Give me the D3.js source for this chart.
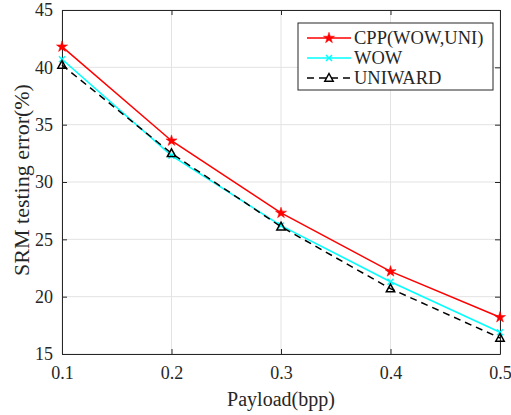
<!DOCTYPE html>
<html>
<head>
<meta charset="utf-8">
<script src="https://cdn.jsdelivr.net/npm/d3@7"></script>
<style>
  body { margin: 0; background: #fff; }
  text { font-family: "Liberation Serif", "Times New Roman", serif; fill: #262626; }
</style>
</head>
<body>
<div class="chart"></div>
<script>
/* data */
const payload = [0.1, 0.2, 0.3, 0.4, 0.5];
const cpp = [41.8, 33.6, 27.3, 22.2, 18.2];
const wow = [40.7, 32.3, 26.2, 21.3, 16.9];
const uniward = [40.2, 32.5, 26.1, 20.7, 16.4];
const seriesNames = ["CPP(WOW,UNI)", "WOW", "UNIWARD"];
const xTicks = [0.1, 0.2, 0.3, 0.4, 0.5];
const yTicks = [15, 20, 25, 30, 35, 40, 45];

const width = 511, height = 415;
const margin = {top: 10, right: 11, bottom: 61, left: 62};
const w = width - margin.left - margin.right;
const h = height - margin.top - margin.bottom;
const serif = '"Liberation Serif", "Times New Roman", serif';

const svg = d3.select(".chart").append("svg")
  .attr("width", width)
  .attr("height", height);

const g = svg.append("g")
  .attr("transform", `translate(${margin.left},${margin.top})`);

const x = d3.scaleLinear().domain([0.1, 0.5]).range([0, w]);
const y = d3.scaleLinear().domain([15, 45]).range([h, 0]);

/* grid */
g.append("g").selectAll("line")
  .data(xTicks).enter().append("line")
  .attr("x1", d => x(d)).attr("x2", d => x(d))
  .attr("y1", 0).attr("y2", h)
  .attr("stroke", "#e3e3e3").attr("stroke-width", 1);
g.append("g").selectAll("line")
  .data(yTicks).enter().append("line")
  .attr("x1", 0).attr("x2", w)
  .attr("y1", d => y(d)).attr("y2", d => y(d))
  .attr("stroke", "#e3e3e3").attr("stroke-width", 1);

/* axes, MATLAB style: ticks inside, box on all sides */
function styleAxis(sel) {
  sel.attr("font-family", serif).attr("font-size", 18);
  sel.select(".domain").attr("stroke", "#262626");
  sel.selectAll(".tick line").attr("stroke", "#262626");
  sel.selectAll(".tick text")
    .style("font-family", serif)
    .style("font-size", "18px")
    .attr("fill", "#262626");
}
const fmt = d3.format(".1f");
g.append("g").attr("transform", `translate(0,${h})`)
  .call(d3.axisBottom(x).tickValues(xTicks).tickFormat(fmt).tickSizeInner(-5).tickSizeOuter(0).tickPadding(12))
  .call(styleAxis);
g.append("g")
  .call(d3.axisTop(x).tickValues(xTicks).tickFormat("").tickSizeInner(-5).tickSizeOuter(0))
  .call(styleAxis);
g.append("g")
  .call(d3.axisLeft(y).tickValues(yTicks).tickSizeInner(-5).tickSizeOuter(0).tickPadding(9))
  .call(styleAxis);
g.append("g").attr("transform", `translate(${w},0)`)
  .call(d3.axisRight(y).tickValues(yTicks).tickFormat("").tickSizeInner(-5).tickSizeOuter(0))
  .call(styleAxis);

/* series */
const series = [
  {name: seriesNames[0], values: cpp, color: "#ff0000", dash: null, marker: "star"},
  {name: seriesNames[1], values: wow, color: "#00ffff", dash: null, marker: "x"},
  {name: seriesNames[2], values: uniward, color: "#000000", dash: "7,5", marker: "tri"}
];

const line = d3.line().x((d, i) => x(payload[i])).y(d => y(d));

function drawMarker(sel, s) {
  if (s.marker === "star") {
    sel.append("path")
      .attr("d", d3.symbol(d3.symbolStar, 38)())
      .attr("fill", s.color).attr("stroke", s.color).attr("stroke-width", 0.5);
  } else if (s.marker === "x") {
    sel.append("path")
      .attr("d", "M-3,-3L3,3M-3,3L3,-3")
      .attr("fill", "none").attr("stroke", s.color).attr("stroke-width", 1.5);
  } else {
    sel.append("path")
      .attr("d", "M0,-4.5L4.2,3.2L-4.2,3.2Z")
      .attr("fill", "none").attr("stroke", s.color).attr("stroke-width", 1.5);
  }
}

series.forEach(s => {
  g.append("path")
    .datum(s.values)
    .attr("d", line)
    .attr("fill", "none")
    .attr("stroke", s.color)
    .attr("stroke-width", 1.5)
    .attr("stroke-dasharray", s.dash);
  g.append("g").selectAll("g")
    .data(s.values).enter().append("g")
    .attr("transform", (d, i) => `translate(${x(payload[i])},${y(d)})`)
    .each(function() { drawMarker(d3.select(this), s); });
});

/* legend */
const lg = svg.append("g").attr("transform", "translate(298,23)");
lg.append("rect").attr("width", 195).attr("height", 67)
  .attr("fill", "#fff").attr("stroke", "#262626").attr("stroke-width", 1);
series.forEach((s, i) => {
  const row = lg.append("g").attr("transform", `translate(0,${15 + i * 20})`);
  row.append("line").attr("x1", 9).attr("x2", 53)
    .attr("stroke", s.color).attr("stroke-width", 1.5)
    .attr("stroke-dasharray", s.dash);
  const m = row.append("g").attr("transform", "translate(31,0)");
  drawMarker(m, s);
  row.append("text").attr("x", 56).attr("y", 6)
    .style("font-family", serif)
    .style("font-size", "18.5px").text(s.name);
});

/* axis labels */
svg.append("text")
  .attr("x", margin.left + w / 2).attr("y", 406)
  .attr("text-anchor", "middle")
  .style("font-family", serif)
  .style("font-size", "20px")
  .text("Payload(bpp)");
svg.append("text")
  .attr("transform", `translate(29,${margin.top + h / 2 - 2}) rotate(-90)`)
  .attr("text-anchor", "middle")
  .style("font-family", serif)
  .style("font-size", "22px")
  .text("SRM testing error(%)");
</script>
</body>
</html>
